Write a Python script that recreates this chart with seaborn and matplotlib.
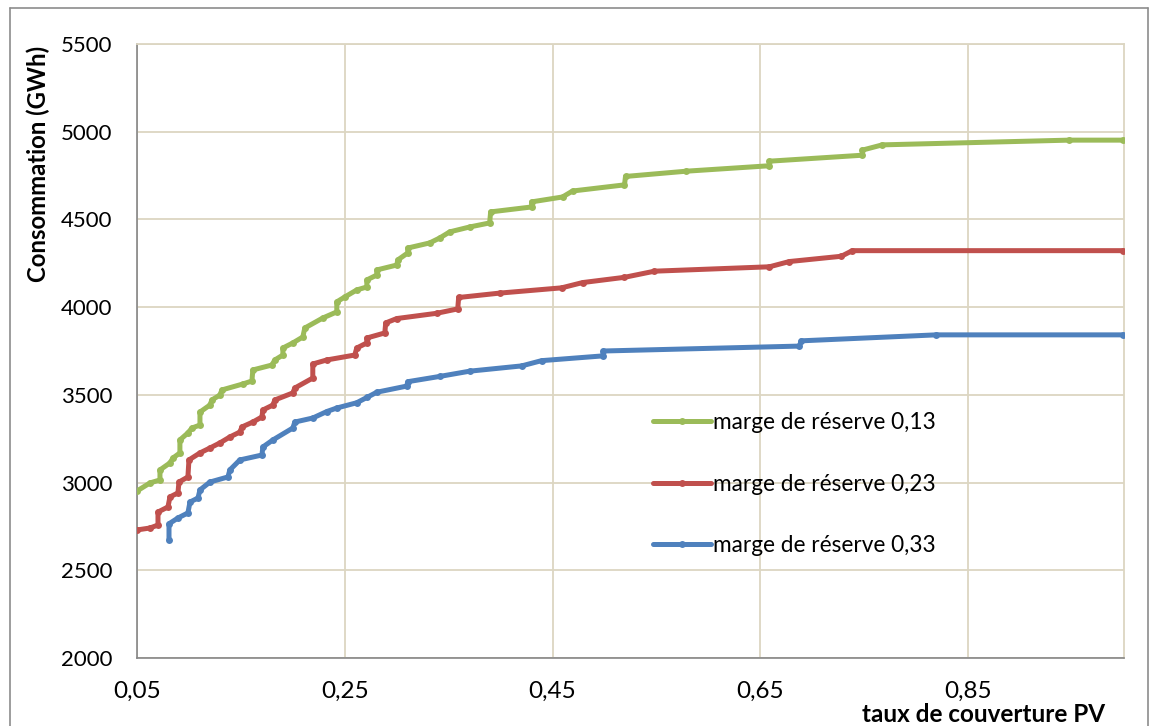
import numpy as np
import pandas as pd
import matplotlib
matplotlib.use("Agg")
import matplotlib.pyplot as plt
import seaborn as sns
from matplotlib.lines import Line2D
from matplotlib.ticker import FuncFormatter, MultipleLocator

# ---------------- data ----------------
labels = ["marge de réserve 0,13", "marge de réserve 0,23", "marge de réserve 0,33"]

x_013 = [0.050, 0.0625, 0.0721, 0.0721, 0.0817, 0.0846, 0.0913, 0.0913, 0.099, 0.1029,
         0.1106, 0.1106, 0.1202, 0.1221, 0.1298, 0.1317, 0.1519, 0.1606, 0.1615, 0.1798,
         0.1827, 0.1904, 0.1904, 0.2000, 0.2096, 0.2115, 0.2288, 0.2423, 0.2423, 0.2500,
         0.2615, 0.2712, 0.2712, 0.2808, 0.2808, 0.3000, 0.3010, 0.3106, 0.3106, 0.3317,
         0.3413, 0.3510, 0.3702, 0.3894, 0.3904, 0.4298, 0.4298, 0.4596, 0.4692, 0.5192,
         0.5202, 0.5788, 0.6587, 0.6587, 0.7481, 0.7481, 0.7673, 0.9471, 0.9990]
y_013 = [2952, 2998, 3015, 3072, 3112, 3140, 3169, 3243, 3283, 3311,
         3328, 3402, 3442, 3471, 3499, 3528, 3562, 3579, 3642, 3670,
         3699, 3727, 3767, 3796, 3830, 3881, 3938, 3973, 4030, 4058,
         4098, 4115, 4155, 4183, 4212, 4240, 4269, 4309, 4337, 4366,
         4394, 4429, 4457, 4480, 4543, 4571, 4600, 4628, 4662, 4697,
         4745, 4775, 4806, 4832, 4866, 4895, 4925, 4952, 4952]

x_023 = [0.050, 0.0625, 0.0702, 0.0702, 0.0798, 0.0817, 0.0894, 0.0904, 0.099, 0.100,
         0.1106, 0.1202, 0.1298, 0.1394, 0.149, 0.151, 0.1615, 0.1702, 0.1712, 0.1808,
         0.1827, 0.200, 0.2019, 0.2192, 0.2192, 0.2327, 0.2596, 0.2615, 0.2712, 0.2712,
         0.2885, 0.2894, 0.300, 0.3385, 0.3587, 0.3596, 0.399, 0.4587, 0.4788, 0.5192,
         0.5481, 0.6587, 0.6779, 0.7279, 0.7385, 0.9990]
y_023 = [2730, 2741, 2758, 2832, 2861, 2918, 2941, 3003, 3032, 3129,
         3169, 3197, 3226, 3260, 3288, 3317, 3345, 3374, 3414, 3442,
         3471, 3511, 3539, 3596, 3676, 3699, 3727, 3767, 3796, 3824,
         3853, 3910, 3935, 3965, 3990, 4055, 4080, 4110, 4140, 4170,
         4205, 4230, 4260, 4290, 4322, 4322]

x_033 = [0.0808, 0.0808, 0.0894, 0.099, 0.101, 0.1087, 0.1106, 0.1202, 0.1375, 0.1394,
         0.149, 0.1702, 0.1712, 0.1808, 0.200, 0.2019, 0.2192, 0.2327, 0.2423, 0.2615,
         0.2712, 0.2808, 0.3096, 0.3106, 0.3413, 0.3702, 0.4202, 0.4394, 0.4981, 0.499,
         0.6875, 0.6894, 0.8192, 0.9990]
y_033 = [2673, 2765, 2798, 2827, 2889, 2912, 2958, 3003, 3032, 3072,
         3129, 3157, 3203, 3243, 3311, 3345, 3368, 3405, 3425, 3455,
         3485, 3515, 3550, 3575, 3605, 3635, 3665, 3695, 3722, 3750,
         3778, 3808, 3842, 3842]

colors = ["#9BBB59", "#C0504D", "#4F81BD"]

frames = []
for lab, xs, ys in zip(labels, [x_013, x_023, x_033], [y_013, y_023, y_033]):
    frames.append(pd.DataFrame({"x": xs, "y": ys, "serie": lab}))
df = pd.concat(frames, ignore_index=True)

# ---------------- figure ----------------
sns.set_style("white")
plt.rcParams['font.family'] = ['Lato', 'DejaVu Sans']
plt.rcParams['text.color'] = 'black'
plt.rcParams['xtick.labelcolor'] = 'black'
plt.rcParams['ytick.labelcolor'] = 'black'
plt.rcParams['axes.labelcolor'] = 'black'

fig = plt.figure(figsize=(11.54, 7.26), dpi=100)
ax = fig.add_axes([137/1154, 1 - 658/726, (1124-137)/1154, (658-44)/726])

grid_c = "#DCD6C2"
sns.lineplot(data=df, x="x", y="y", hue="serie", hue_order=labels, palette=colors,
             sort=False, estimator=None, units="serie", linewidth=3.6,
             marker="o", markersize=5, markeredgewidth=0, ax=ax, legend=False,
             zorder=3)

ax.set_xlim(0.05, 1.0)
ax.set_ylim(2000, 5500)
ax.set_xticks([0.05, 0.25, 0.45, 0.65, 0.85])
ax.yaxis.set_major_locator(MultipleLocator(500))
ax.xaxis.set_major_formatter(FuncFormatter(lambda v, p: f"{v:.2f}".replace(".", ",")))
ax.yaxis.set_major_formatter(FuncFormatter(lambda v, p: f"{int(v)}"))

ax.grid(True, color=grid_c, linewidth=1.3, zorder=0)
ax.set_axisbelow(True)
for s in ["top", "right"]:
    ax.spines[s].set_color(grid_c)
    ax.spines[s].set_linewidth(1.3)
for s in ["left", "bottom"]:
    ax.spines[s].set_color("#868686")
    ax.spines[s].set_linewidth(1.2)

ax.tick_params(axis="both", direction="out", length=5.2, width=1, color="#868686")
ax.tick_params(axis="y", labelsize=16, pad=12.5)
ax.tick_params(axis="x", labelsize=17.5, pad=11)

ax.set_xlabel("taux de couverture PV", fontsize=17.5, fontweight="bold", ha="right", va="top")
ax.xaxis.set_label_coords((1105-137)/987, -(703-658)/614)
ax.set_ylabel("Consommation (GWh)", fontsize=17.2, fontweight="bold")
ax.yaxis.set_label_coords((50-137)/987, (658-163.5)/614)

handles = [Line2D([0], [0], color=c, linewidth=3.6, marker="o", markersize=5,
                  markeredgewidth=0) for c in colors]
leg = ax.legend(handles, labels, loc="upper left", bbox_to_anchor=(0.523, 0.400),
                frameon=False, handlelength=2.55, handletextpad=0.1,
                labelspacing=1.78, borderaxespad=0, borderpad=0, numpoints=1,
                prop={"family": ["Lato", "DejaVu Sans"], "size": 16.3})

# outer chart border
for (x0, y0, x1, y1) in [(10, 8, 10, 726), (10, 8, 1148, 8), (1148, 8, 1148, 726)]:
    fig.add_artist(Line2D([x0/1154, x1/1154], [1 - y0/726, 1 - y1/726],
                          color="#8C8C8C", linewidth=1.2, transform=fig.transFigure))

fig.savefig("out.png", dpi=100)
